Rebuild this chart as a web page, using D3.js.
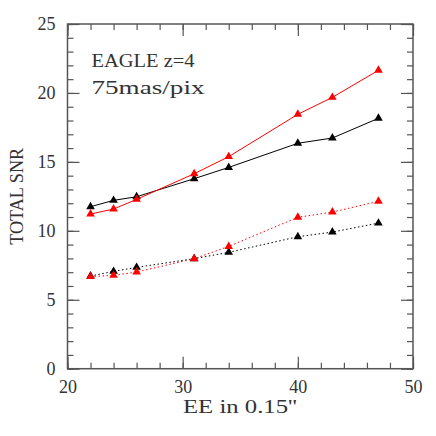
<!DOCTYPE html>
<html><head><meta charset="utf-8">
<script src="https://cdn.jsdelivr.net/npm/d3@7"></script>
<style>body{margin:0;background:#fff}svg{display:block}</style>
</head><body>
<svg id="c" width="436" height="436"></svg>
<script>
const eeValues = [22, 24, 26, 31, 34, 40, 43, 47];
const redSolid = [11.22, 11.58, 12.28, 14.14, 15.38, 18.45, 19.68, 21.64];
const blackSolid = [11.75, 12.21, 12.47, 13.78, 14.60, 16.35, 16.73, 18.16];
const redDotted = [6.68, 6.77, 7.01, 7.98, 8.87, 10.98, 11.36, 12.14];
const blackDotted = [6.72, 7.06, 7.35, 7.98, 8.44, 9.57, 9.91, 10.56];
const xMajorTicks = [20, 30, 40, 50];
const yMajorTicks = [0, 5, 10, 15, 20, 25];
const labelLines = ["EAGLE z=4", "75mas/pix"];
const xTitle = "EE in 0.15''";
const yTitle = "TOTAL SNR";

const series = [
  {vals: blackDotted, color: "#000", dash: "1.5,2.5"},
  {vals: redDotted, color: "#ff0000", dash: "1.5,2.5"},
  {vals: blackSolid, color: "#000", dash: null},
  {vals: redSolid, color: "#ff0000", dash: null}
];

const L = 67.5, R = 413, T = 24, B = 368.7;
const svg = d3.select("#c");
const x = d3.scaleLinear().domain([20, 50]).range([L, R]);
const y = d3.scaleLinear().domain([0, 25]).range([B, T]);
const font = "'Liberation Serif', 'DejaVu Serif', serif";
const axisColor = "#555";
const textColor = "#333";

function styleAxis(g) {
  g.select(".domain").remove();
  g.selectAll(".tick line").attr("stroke", axisColor).attr("stroke-width", 1.2);
  g.selectAll(".tick text").attr("font-family", font).attr("font-size", 18).attr("fill", textColor);
}
const xMinor = d3.range(20, 51, 2);
const yMinor = d3.range(0, 26, 1);

// minor ticks
svg.append("g").attr("transform", `translate(0,${B})`).call(d3.axisBottom(x).tickValues(xMinor).tickSize(-6).tickFormat("")).call(styleAxis);
svg.append("g").attr("transform", `translate(0,${T})`).call(d3.axisTop(x).tickValues(xMinor).tickSize(-6).tickFormat("")).call(styleAxis);
svg.append("g").attr("transform", `translate(${L},0)`).call(d3.axisLeft(y).tickValues(yMinor).tickSize(-6).tickFormat("")).call(styleAxis);
svg.append("g").attr("transform", `translate(${R},0)`).call(d3.axisRight(y).tickValues(yMinor).tickSize(-6).tickFormat("")).call(styleAxis);
// major ticks
svg.append("g").attr("transform", `translate(0,${B})`).call(d3.axisBottom(x).tickValues(xMajorTicks).tickSize(-12).tickPadding(12).tickFormat(d3.format("d"))).call(styleAxis);
svg.append("g").attr("transform", `translate(0,${T})`).call(d3.axisTop(x).tickValues(xMajorTicks).tickSize(-12).tickFormat("")).call(styleAxis);
svg.append("g").attr("transform", `translate(${L},0)`).call(d3.axisLeft(y).tickValues(yMajorTicks).tickSize(-12).tickPadding(12).tickFormat(d3.format("d"))).call(styleAxis);
svg.append("g").attr("transform", `translate(${R},0)`).call(d3.axisRight(y).tickValues(yMajorTicks).tickSize(-12).tickFormat("")).call(styleAxis);

// frame
svg.append("rect").attr("x", L).attr("y", T).attr("width", R - L).attr("height", B - T)
  .attr("fill", "none").attr("stroke", axisColor).attr("stroke-width", 1.5);

const line = d3.line().x((d, i) => x(eeValues[i])).y(d => y(d));
const tri = d3.symbol().type(d3.symbolTriangle).size(32);
series.forEach(s => {
  svg.append("path").attr("d", line(s.vals)).attr("fill", "none").attr("stroke", s.color)
    .attr("stroke-width", 1).attr("stroke-dasharray", s.dash);
  svg.append("g").selectAll("path").data(s.vals).join("path")
    .attr("d", tri).attr("fill", s.color)
    .attr("transform", (d, i) => `translate(${x(eeValues[i])},${y(d)})`);
});

// annotations
svg.append("text").attr("x", 91.5).attr("y", 66.5).attr("font-family", font).attr("font-size", 18)
  .attr("textLength", 103).attr("lengthAdjust", "spacingAndGlyphs").attr("fill", textColor).text(labelLines[0]);
svg.append("text").attr("x", 91.5).attr("y", 93.5).attr("font-family", font).attr("font-size", 18)
  .attr("textLength", 113).attr("lengthAdjust", "spacingAndGlyphs").attr("fill", textColor).text(labelLines[1]);
svg.append("text").attr("x", 240).attr("y", 413).attr("text-anchor", "middle").attr("font-family", font)
  .attr("font-size", 18).attr("textLength", 114).attr("lengthAdjust", "spacingAndGlyphs").attr("fill", textColor).text(xTitle);
svg.append("text").attr("transform", `translate(23,${(T + B) / 2}) rotate(-90)`).attr("text-anchor", "middle")
  .attr("font-family", font).attr("font-size", 18).attr("textLength", 97).attr("lengthAdjust", "spacingAndGlyphs")
  .attr("fill", textColor).text(yTitle);
</script>
</body></html>
